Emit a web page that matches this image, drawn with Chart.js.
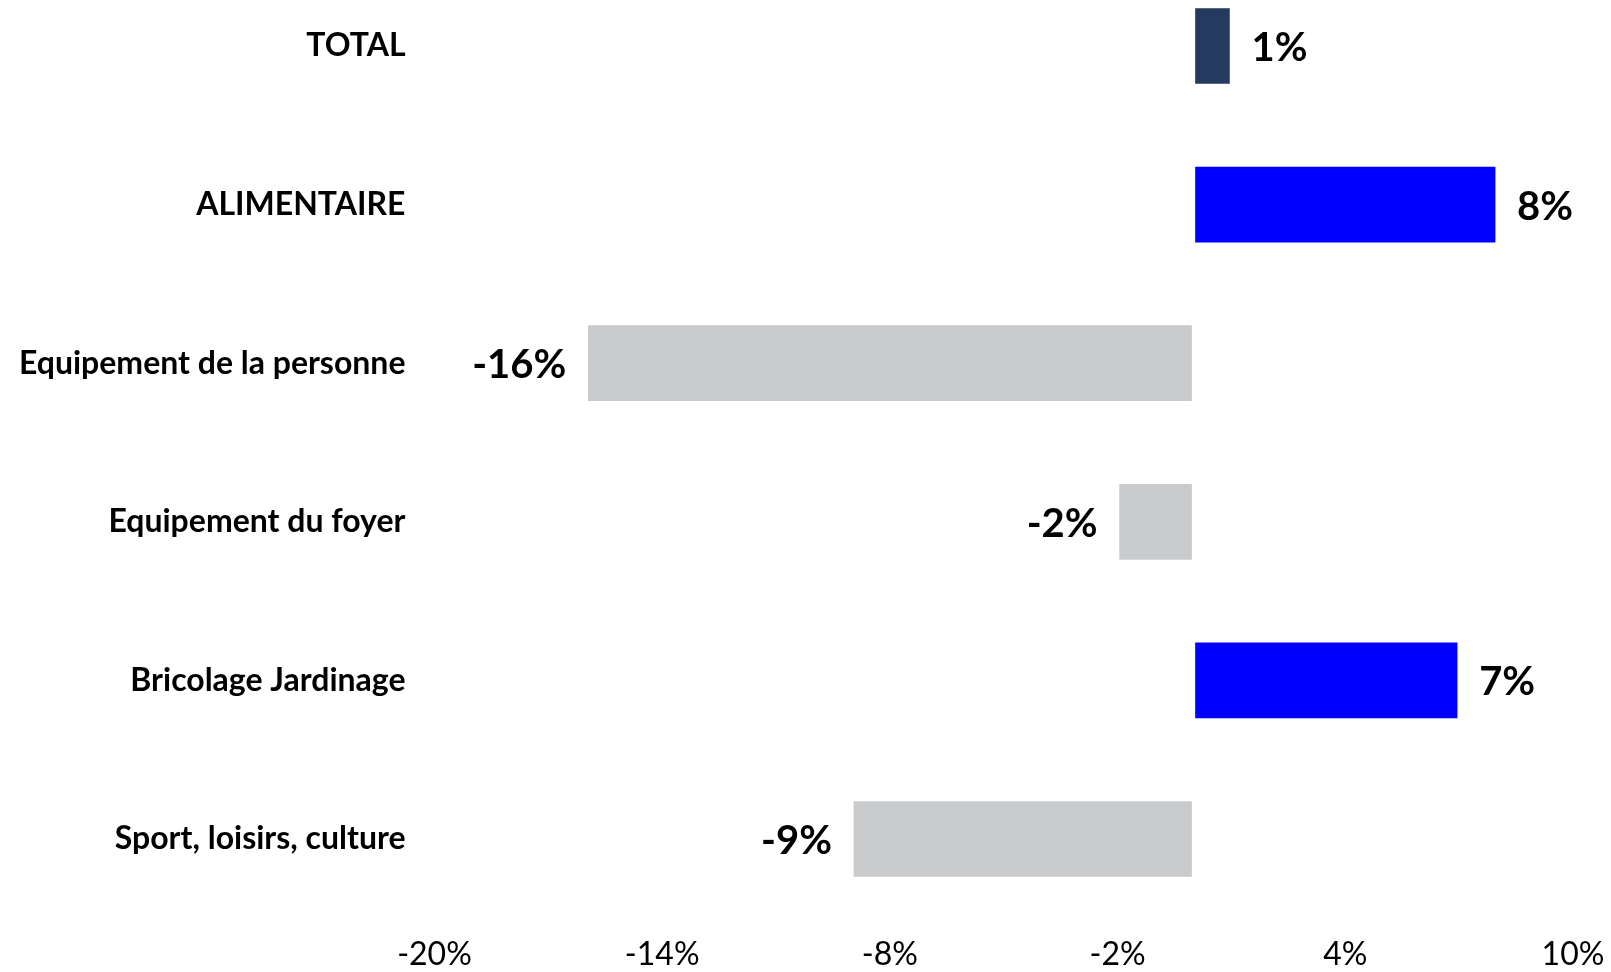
<!DOCTYPE html>
<html>
<head>
<meta charset="utf-8">
<script src="https://cdn.jsdelivr.net/npm/chart.js@4"></script>
<style>
  html, body { margin: 0; padding: 0; background: #fff; overflow: hidden; }
  #wrap { width: 1611px; height: 972px; position: relative; }
</style>
</head>
<body>
<div id="wrap"><canvas id="evolChart"></canvas></div>
<script>
const categories = [
  "TOTAL",
  "ALIMENTAIRE",
  "Equipement de la personne",
  "Equipement du foyer",
  "Bricolage Jardinage",
  "Sport, loisirs, culture"
];
const evolution = [1, 8, -16, -2, 7, -9];
const barColors = ["#243a5e", "#0000ff", "#c9cacc", "#c9cacc", "#0000ff", "#c9cacc"];
const xTicks = [-20, -14, -8, -2, 4, 10];

// writes the % value beside the end of each bar
const valueLabels = {
  id: "valueLabels",
  afterDatasetsDraw(chart) {
    const ctx = chart.ctx;
    const meta = chart.getDatasetMeta(0);
    ctx.save();
    ctx.font = "bold 40px Lato";
    ctx.fillStyle = "#000";
    ctx.textBaseline = "middle";
    meta.data.forEach((bar, i) => {
      const v = evolution[i];
      if (v >= 0) {
        ctx.textAlign = "left";
        ctx.fillText(v + "%", bar.x + 20, bar.y + 2);
      } else {
        ctx.textAlign = "right";
        ctx.fillText(v + "%", bar.x - 20, bar.y + 2);
      }
    });
    ctx.restore();
  }
};

new Chart(document.getElementById("evolChart"), {
  type: "bar",
  data: {
    labels: categories,
    datasets: [{
      data: evolution,
      backgroundColor: barColors,
      borderColor: "#ffffff",
      borderWidth: 2,
      borderSkipped: false,
      barThickness: 79,
      clip: false
    }]
  },
  options: {
    indexAxis: "y",
    responsive: true,
    maintainAspectRatio: false,
    animation: false,
    layout: { padding: { top: 46, right: 38, bottom: 0, left: 0 } },
    plugins: {
      legend: { display: false },
      tooltip: { enabled: false }
    },
    scales: {
      x: {
        min: xTicks[0],
        max: xTicks[xTicks.length - 1],
        afterBuildTicks: (scale) => {
          scale.ticks = xTicks.map((v) => ({ value: v }));
        },
        grid: { display: false },
        border: { display: false },
        ticks: {
          padding: 88,
          color: "#000",
          font: { family: "Lato", size: 32 },
          callback: (v) => v + "%"
        },
        afterFit: (scale) => {
          // the large label padding must not push the plot in sideways
          scale.height = 133;
          scale.paddingLeft = 0;
          scale.paddingRight = 0;
        }
      },
      y: {
        offset: false,
        grid: { display: false },
        border: { display: false },
        ticks: {
          padding: 21,
          color: "#000",
          font: { family: "Lato", size: 32, weight: "bold" }
        },
        afterFit: (scale) => { scale.width = 434.5; }
      }
    }
  },
  plugins: [valueLabels]
});
</script>
</body>
</html>
